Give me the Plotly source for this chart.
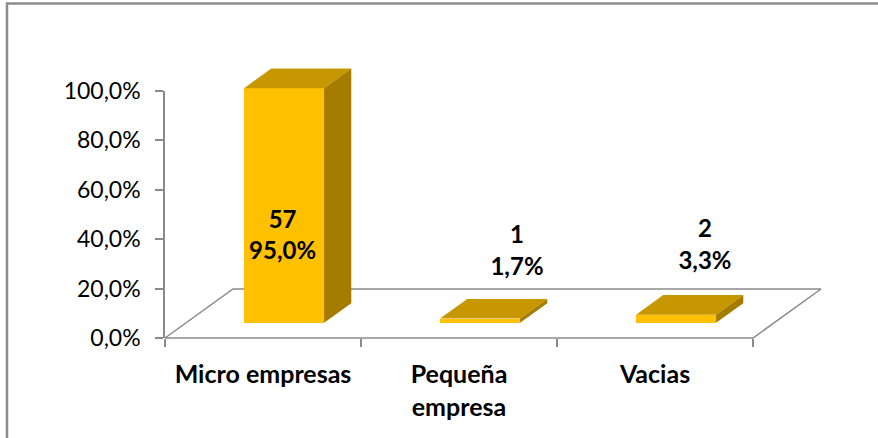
import plotly.graph_objects as go

# ---- data ----
categories = ["Micro empresas", "Pequeña<br>empresa", "Vacias"]
counts = [57, 1, 2]
percents = [95.0, 1.7, 3.3]
y_ticks = [0, 20, 40, 60, 80, 100]
y_tick_labels = ["0,0%", "20,0%", "40,0%", "60,0%", "80,0%", "100,0%"]

# ---- styling / geometry (not data) ----
W, H = 878, 438
L, R, T, B = 160, 48, 58, 88
PX_PER_CAT = 196.0
PX_PER_PCT = 2.47
Y0_PX = 338  # pixel row of 0 %
plot_w = W - L - R
plot_h = H - T - B
x_min = -0.5 - 5 / PX_PER_CAT
x_max = x_min + plot_w / PX_PER_CAT
y_min = -(H - B - Y0_PX) / PX_PER_PCT
y_max = y_min + plot_h / PX_PER_PCT

# depth vector of the floor (in data units)
FLOOR_DX, FLOOR_DY = 68 / PX_PER_CAT, 49 / PX_PER_PCT
FRONT_F, DEPTH_F = 0.31, 0.40
fdx, fdy = FLOOR_DX * FRONT_F, FLOOR_DY * FRONT_F
ddx, ddy = FLOOR_DX * DEPTH_F, FLOOR_DY * DEPTH_F
BAR_W = 80 / PX_PER_CAT

FRONT = "#FFC000"
TOP = "#C79700"
SIDE = "#A67C00"
AXIS = "#8A8A8A"
FONT = "Lato"

n = len(categories)
fig = go.Figure()

# floor (base subplot, drawn underneath)
x_lo, x_hi = -0.5, n - 0.5
fig.add_trace(go.Scatter(
    x=[x_lo, x_hi, x_hi + FLOOR_DX, x_lo + FLOOR_DX, x_lo],
    y=[0, 0, FLOOR_DY, FLOOR_DY, 0],
    mode="lines", line=dict(color=AXIS, width=1.5),
    hoverinfo="skip", showlegend=False))

# front faces (overlay subplot, drawn above the floor)
fig.add_trace(go.Bar(
    x=[i + fdx for i in range(n)], y=percents, base=[fdy] * n,
    width=BAR_W, marker=dict(color=FRONT, line=dict(width=0)),
    hoverinfo="skip", showlegend=False, xaxis="x3", yaxis="y3"))

# top and side faces
tx, ty, sx, sy = [], [], [], []
for i, v in enumerate(percents):
    x0 = i + fdx - BAR_W / 2
    x1 = i + fdx + BAR_W / 2
    top = fdy + v
    tx += [x0, x1, x1 + ddx, x0 + ddx, x0, None]
    ty += [top, top, top + ddy, top + ddy, top, None]
    sx += [x1, x1, x1 + ddx, x1 + ddx, x1, None]
    sy += [fdy, top, top + ddy, fdy + ddy, fdy, None]
fig.add_trace(go.Scatter(x=tx, y=ty, mode="lines", line=dict(width=0, color=TOP),
                         fill="toself", fillcolor=TOP, hoverinfo="skip", showlegend=False,
                         xaxis="x3", yaxis="y3"))
fig.add_trace(go.Scatter(x=sx, y=sy, mode="lines", line=dict(width=0, color=SIDE),
                         fill="toself", fillcolor=SIDE, hoverinfo="skip", showlegend=False,
                         xaxis="x3", yaxis="y3"))

# data labels
label_dx = [0.10, 0.296, 0.255]
label_y = [40.8, 34.4, 36.8]
texts = [f"<b>{c}</b><br><b>{('%.1f' % p).replace('.', ',')}%</b>" for c, p in zip(counts, percents)]
fig.add_trace(go.Scatter(
    x=[i + d for i, d in enumerate(label_dx)], y=label_y, mode="text", text=texts,
    textfont=dict(family=FONT, size=24, color="black"), textposition="middle center",
    hoverinfo="skip", showlegend=False, cliponaxis=False, xaxis="x3", yaxis="y3"))

# empty trace so the decorative axis pair is drawn
fig.add_trace(go.Scatter(x=[None], y=[None], mode="markers", hoverinfo="skip",
                         showlegend=False, xaxis="x2", yaxis="y2"))

# decorative axes
y2_lo = (H - B - Y0_PX) / plot_h
y2_hi = (H - B - (Y0_PX - 100 * PX_PER_PCT)) / plot_h
x2_lo = (-0.5 - x_min) * PX_PER_CAT / plot_w

hidden = dict(visible=False, fixedrange=True, showgrid=False, zeroline=False)
fig.update_layout(
    width=W, height=H, margin=dict(l=L, r=R, t=T, b=B),
    paper_bgcolor="white", plot_bgcolor="rgba(0,0,0,0)",
    font=dict(family=FONT, color="black"),
    bargap=0,
    xaxis=dict(range=[x_min, x_max], domain=[0, 1], **hidden),
    yaxis=dict(range=[y_min, y_max], domain=[0, 1], **hidden),
    xaxis3=dict(range=[x_min, x_max], overlaying="x", anchor="y3", **hidden),
    yaxis3=dict(range=[y_min, y_max], overlaying="y", anchor="x3", **hidden),
    xaxis2=dict(range=[-0.5, x_max], domain=[x2_lo, 1], anchor="y2", fixedrange=True,
                tickmode="array", tickvals=list(range(n)), ticktext=categories,
                ticks="", ticklabelstandoff=19, showline=False, showgrid=False, zeroline=False,
                tickfont=dict(family=FONT, size=25, color="black", weight="bold"),
                minor=dict(tickmode="array", tickvals=[i - 0.5 for i in range(n + 1)],
                           ticks="outside", ticklen=8, tickcolor=AXIS, tickwidth=1.5, showgrid=False)),
    yaxis2=dict(range=[0, 100], domain=[y2_lo, y2_hi], anchor="x2", fixedrange=True,
                tickmode="array", tickvals=y_ticks, ticktext=y_tick_labels,
                ticks="outside", ticklen=8, tickcolor=AXIS, tickwidth=1.5,
                showline=True, linecolor=AXIS, linewidth=1.5, showgrid=False, zeroline=False,
                ticklabelstandoff=10,
                tickfont=dict(family=FONT, size=23, color="black")),
    shapes=[dict(type="path", xref="paper", yref="paper",
                 path=f"M {(7 - L) / plot_w},{(H - B - 440) / plot_h} L {(7 - L) / plot_w},{(H - B - 3.5) / plot_h} L {(880 - L) / plot_w},{(H - B - 3.5) / plot_h}",
                 line=dict(color="#8C8C8C", width=2.5))],
)

fig.write_html("out.html", config={"displayModeBar": False},
               post_script="document.body.style.margin='0';")
